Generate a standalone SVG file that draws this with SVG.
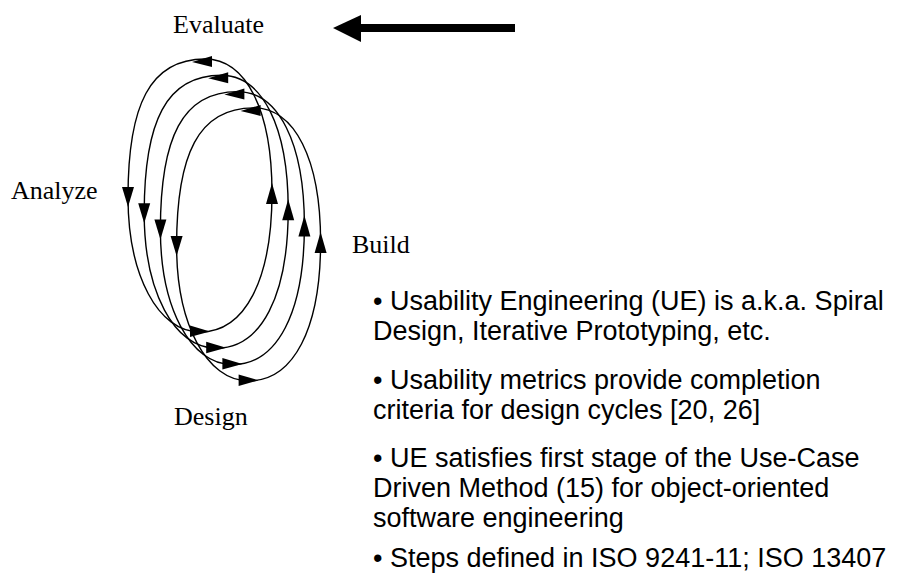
<svg xmlns="http://www.w3.org/2000/svg" width="901" height="574" viewBox="0 0 901 574">
<style>
.loop{fill:none;stroke:#000;stroke-width:1.4}
.ah{fill:#000;stroke:none}
.lbl{font-family:"Liberation Serif","Times New Roman",serif;font-size:26px;fill:#000}
.txt{font-family:"Liberation Sans",Arial,sans-serif;font-size:27px;fill:#000}
</style>
<defs>
<g id="loopShape">
<path class="loop" d="M205,59 C150,59 128,105 128,197 C128,275 158,332 200,332 C245,332 272,280 272,193 C272,110 246,59 205,59 Z"/>
<polygon class="ah" points="192,62 212,56 212,67"/>
<polygon class="ah" points="122,187 134,187 128,207"/>
<polygon class="ah" points="272,183 266,204 278,204"/>
<polygon class="ah" points="190,325.5 190,337 210,331.5"/>
</g>
</defs>
<g id="connectors">
<g id="loop1"><use href="#loopShape"/></g>
<g id="loop2"><use href="#loopShape" transform="translate(16.2,16.3)"/></g>
<g id="loop3"><use href="#loopShape" transform="translate(32.4,32.6)"/></g>
<g id="loop4"><use href="#loopShape" transform="translate(48.6,48.9)"/></g>
<g id="bigArrow">
<rect x="360" y="24" width="155" height="8" fill="#000"/>
<polygon class="ah" points="333,28 361,15 361,42"/>
</g>
</g>
<g id="evaluate"><text class="lbl" x="173" y="33">Evaluate</text></g>
<g id="analyze"><text class="lbl" x="11" y="199">Analyze</text></g>
<g id="build"><text class="lbl" x="352" y="253">Build</text></g>
<g id="design"><text class="lbl" x="174" y="425">Design</text></g>
<g id="notes">
<text class="txt" x="373" y="310">• Usability Engineering (UE) is a.k.a. Spiral</text>
<text class="txt" x="373" y="340">Design, Iterative Prototyping, etc.</text>
<text class="txt" x="373" y="389">• Usability metrics provide completion</text>
<text class="txt" x="373" y="419">criteria for design cycles [20, 26]</text>
<text class="txt" x="373" y="467">• UE satisfies first stage of the Use-Case</text>
<text class="txt" x="373" y="497">Driven Method (15) for object-oriented</text>
<text class="txt" x="373" y="527">software engineering</text>
<text class="txt" x="373" y="567">• Steps defined in ISO 9241-11; ISO 13407</text>
</g>
</svg>
